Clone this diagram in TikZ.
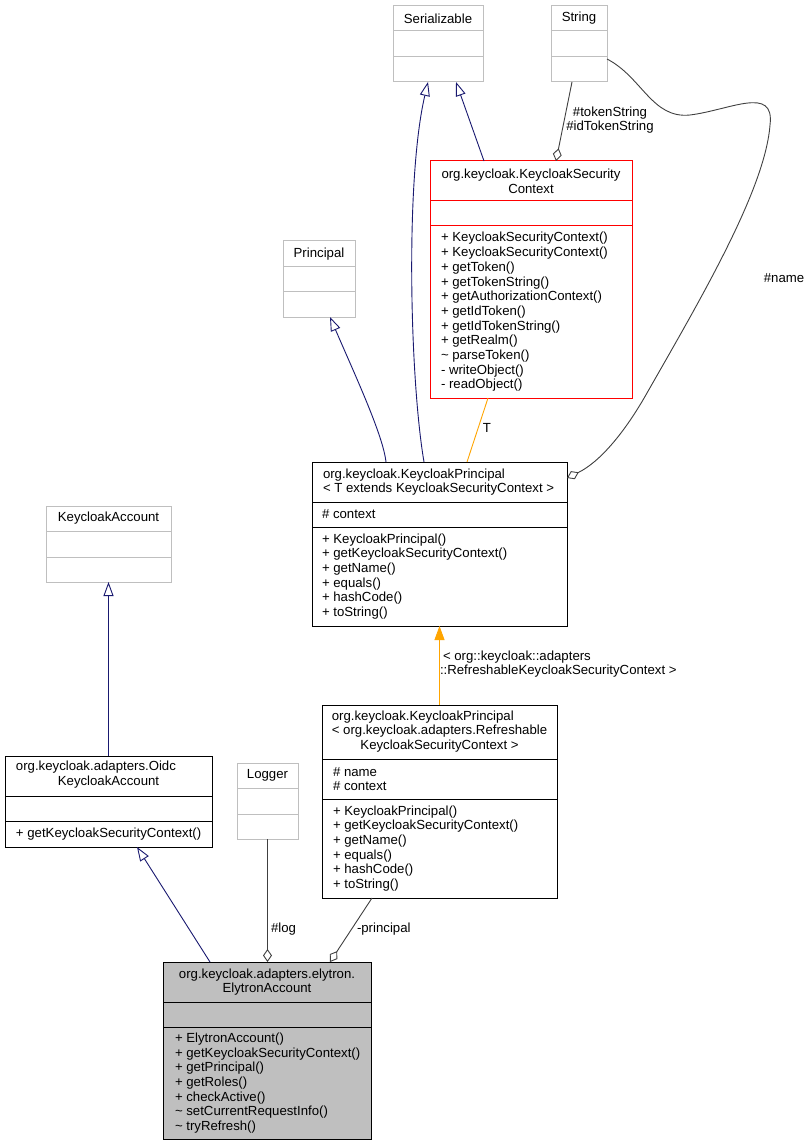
\documentclass[tikz,border=0pt]{standalone}
\usepackage{fontspec}
\setmainfont{Liberation Sans}
\usetikzlibrary{arrows.meta,calc}
\definecolor{navy}{HTML}{191970}
\definecolor{dorange}{HTML}{FFA500}
\definecolor{edgegray}{HTML}{404040}
\definecolor{boxgray}{HTML}{BFBFBF}
\definecolor{elyfill}{HTML}{BFBFBF}
\definecolor{boxred}{HTML}{FF0000}
\newcommand\ubox[9]{%
  \node[draw=#8, fill=#9, line width=1pt, anchor=north west, minimum width=#4pt-#2pt, minimum height=#5pt-#3pt] (#1) at (#2,#3) {};
  \draw[#8, line width=1pt] (#2,#6) -- (#4,#6) (#2,#7) -- (#4,#7);}
\tikzset{
  every node/.style={font=\fontsize{13.2}{14.7}\selectfont, inner sep=0pt, outer sep=0pt},
  inh/.style={navy, line width=0.9pt, -{Triangle[open, length=14pt, width=10pt]}},
  agg/.style={edgegray, line width=0.9pt, -{Diamond[open, length=13pt, width=9pt]}},
  tmpl/.style={dorange, line width=0.9pt},
  tmplarr/.style={dorange, line width=0.9pt, -{Triangle[length=14pt, width=10pt]}},
  lbl/.style={align=left, anchor=west},
}
\begin{document}
\begin{tikzpicture}[x=1pt, y=-1pt]
\fill[white] (0,0) rectangle (810,1147);
\useasboundingbox (0,0) rectangle (810,1147);
% boxes
\ubox{ser}{393}{6}{483}{82}{31}{57}{boxgray}{white}
\ubox{str}{551}{6}{607}{82}{31}{57}{boxgray}{white}
\ubox{prin}{283}{241}{355}{317}{267}{292}{boxgray}{white}
\ubox{ksc}{430}{161}{632}{398}{201}{226}{boxred}{white}
\ubox{kp}{312}{462}{567}{626}{502}{527}{black}{white}
\ubox{ref}{322}{705}{557}{898}{759}{799}{black}{white}
\ubox{ka}{46}{506}{171}{582}{531}{557}{boxgray}{white}
\ubox{oidc}{5}{756}{212}{847}{796}{821}{black}{white}
\ubox{log}{237}{763}{298}{839}{788}{814}{boxgray}{white}
\ubox{ely}{163}{962}{371}{1139}{1002}{1027}{black}{elyfill}
% texts
\node (serT) at (438,18.5) {Serializable};
\node (strT) at (579,18.5) {String};
\node (prinT) at (319,254) {Principal};
\node (kaT) at (108.5,518.5) {KeycloakAccount};
\node (logT) at (267.5,775.5) {Logger};
\node[align=center] (kscT) at (531,181) {org.keycloak.KeycloakSecurity\\Context};
\node[lbl] (kscM) at (441,312) {+ KeycloakSecurityContext()\\+ KeycloakSecurityContext()\\+ getToken()\\+ getTokenString()\\+ getAuthorizationContext()\\+ getIdToken()\\+ getIdTokenString()\\+ getRealm()\\\textasciitilde{} parseToken()\\- writeObject()\\- readObject()};
\node[lbl] (kpT) at (323,482) {org.keycloak.KeycloakPrincipal\\< T extends KeycloakSecurityContext >};
\node[lbl] (kpA) at (322,514.5) {\# context};
\node[lbl] (kpM) at (322,576.5) {+ KeycloakPrincipal()\\+ getKeycloakSecurityContext()\\+ getName()\\+ equals()\\+ hashCode()\\+ toString()};
\node (refT) at (439.5,732) {\begin{tabular}{@{}l@{}}org.keycloak.KeycloakPrincipal\\< org.keycloak.adapters.Refreshable\\\multicolumn{1}{@{}c@{}}{KeycloakSecurityContext >}\end{tabular}};
\node[lbl] (refA) at (333,779) {\# name\\\# context};
\node[lbl] (refM) at (333,848.5) {+ KeycloakPrincipal()\\+ getKeycloakSecurityContext()\\+ getName()\\+ equals()\\+ hashCode()\\+ toString()};
\node[lbl] (oidcT1) at (16,767) {org.keycloak.adapters.Oidc};
\node (oidcT2) at (108.5,782) {KeycloakAccount};
\node[lbl] (oidcM) at (16,834) {+ getKeycloakSecurityContext()};
\node[align=center] (elyT) at (267,982) {org.keycloak.adapters.elytron.\\ElytronAccount};
\node[lbl] (elyM) at (175,1083) {+ ElytronAccount()\\+ getKeycloakSecurityContext()\\+ getPrincipal()\\+ getRoles()\\+ checkActive()\\\textasciitilde{} setCurrentRequestInfo()\\\textasciitilde{} tryRefresh()};
% edges
\draw[inh] ([xshift=54pt]ksc.north west) -- ([xshift=63pt]ser.south west);
\draw[inh] ([xshift=112pt]kp.north west) .. controls (410,380) and (405,180) .. ([xshift=35pt]ser.south west);
\draw[inh] ([xshift=74pt]kp.north west) .. controls (383,435) and (355,375) .. ([xshift=47pt]prin.south west);
\draw[agg] ([xshift=21pt]str.south west) -- ([xshift=126pt]ksc.north west);
\node[align=center] (lTok) at (610,120) {\#tokenString\\\#idTokenString};
\draw[agg] ([yshift=-53pt]str.north east) .. controls (642,77) and (652,119) .. (690,115)
  .. controls (730,110) and (775,85) .. (770,125)
  .. controls (765,190) and (700,300) .. (647,393)
  .. controls (625,432) and (600,462) .. ([yshift=-16pt]kp.north east);
\node (lName) at (784,278) {\#name};
\draw[tmpl] ([xshift=58pt]ksc.south west) -- ([xshift=155pt]kp.north west);
\node (lT) at (487,428) {T};
\draw[tmplarr] (ref.north) -- (kp.south);
\node[lbl] (lRef) at (440,664) {\hspace{3pt}< org::keycloak::adapters\\::RefreshableKeycloakSecurityContext >};
\draw[inh] (oidc.north) -- (ka.south);
\draw[inh] ([xshift=47pt]ely.north west) -- ([xshift=132pt]oidc.south west);
\draw[agg] (log.south) -- (log.south |- ely.north);
\node[lbl] (lLog) at (271,929) {\#log};
\draw[agg] ([xshift=50pt]ref.south west) -- ([xshift=167pt]ely.north west);
\node[lbl] (lPr) at (357,929) {-principal};
\end{tikzpicture}
\end{document}
